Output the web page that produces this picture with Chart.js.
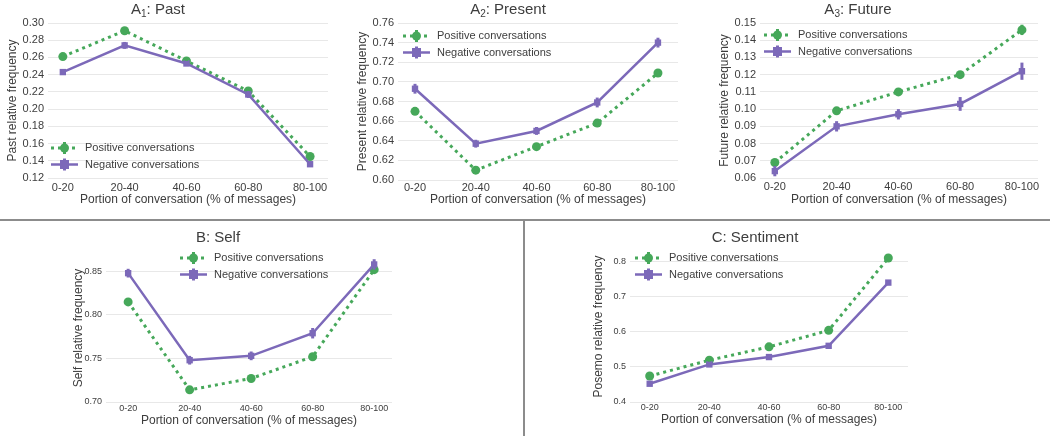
<!DOCTYPE html>
<html>
<head>
<meta charset="utf-8">
<script src="https://cdn.jsdelivr.net/npm/chart.js@4.4.0/dist/chart.umd.min.js"></script>
<style>
  html, body { margin: 0; padding: 0; background: #fff; }
  #wrap { position: relative; width: 1050px; height: 438px; overflow: hidden; }
  #wrap canvas { position: absolute; }
  .hline { position: absolute; left: 0; top: 219px; width: 1050px; height: 2px; background: #8c8c8c; }
  .vline { position: absolute; left: 523px; top: 221px; width: 2px; height: 215px; background: #8c8c8c; }
</style>
</head>
<body>
<div id="wrap">
  <canvas id="past"></canvas>
  <canvas id="present"></canvas>
  <canvas id="future"></canvas>
  <canvas id="self"></canvas>
  <canvas id="sentiment"></canvas>
  <div class="hline"></div>
  <div class="vline"></div>
</div>
<script>
// categories on the x axis (share of the conversation)
const categories = ['0-20', '20-40', '40-60', '60-80', '80-100'];

// A1: past
const pastPos = [0.261, 0.291, 0.256, 0.221, 0.145];
const pastNeg = [0.243, 0.274, 0.253, 0.217, 0.136];
const pastPosErr = [0.002, 0.002, 0.002, 0.002, 0.002];
const pastNegErr = [0.003, 0.004, 0.003, 0.004, 0.003];
const pastTicks = [0.12, 0.14, 0.16, 0.18, 0.20, 0.22, 0.24, 0.26, 0.28, 0.30];

// A2: present
const presentPos = [0.670, 0.610, 0.634, 0.658, 0.709];
const presentNeg = [0.693, 0.637, 0.650, 0.679, 0.740];
const presentPosErr = [0.003, 0.003, 0.003, 0.003, 0.003];
const presentNegErr = [0.005, 0.004, 0.004, 0.005, 0.005];
const presentTicks = [0.60, 0.62, 0.64, 0.66, 0.68, 0.70, 0.72, 0.74, 0.76];

// A3: future
const futurePos = [0.069, 0.099, 0.110, 0.120, 0.146];
const futureNeg = [0.064, 0.090, 0.097, 0.103, 0.122];
const futurePosErr = [0.002, 0.002, 0.002, 0.002, 0.003];
const futureNegErr = [0.003, 0.003, 0.003, 0.004, 0.005];
const futureTicks = [0.06, 0.07, 0.08, 0.09, 0.10, 0.11, 0.12, 0.13, 0.14, 0.15];

// B: self
const selfPos = [0.815, 0.714, 0.727, 0.752, 0.852];
const selfNeg = [0.848, 0.748, 0.753, 0.779, 0.858];
const selfPosErr = [0.003, 0.003, 0.003, 0.003, 0.003];
const selfNegErr = [0.005, 0.005, 0.005, 0.006, 0.006];
const selfTicks = [0.70, 0.75, 0.80, 0.85];

// C: sentiment
const sentimentPos = [0.474, 0.519, 0.557, 0.604, 0.810];
const sentimentNeg = [0.452, 0.507, 0.528, 0.560, 0.740];
const sentimentPosErr = [0.004, 0.004, 0.004, 0.004, 0.004];
const sentimentNegErr = [0.004, 0.004, 0.004, 0.004, 0.004];
const sentimentTicks = [0.4, 0.5, 0.6, 0.7, 0.8];

const green = '#46a85a';
const purple = '#7c69b9';
const textColor = '#3d3d3d';
const fontFamily = '"Liberation Sans", Arial, Helvetica, sans-serif';

Chart.defaults.font.family = fontFamily;
Chart.defaults.color = textColor;

// page positions of each panel (box = canvas, plot = chart area)
const panels = [
    { id: 'past', box: [0, 0, 345, 218], plot: [48, 23, 328, 178], xRange: [-0.24, 4.29],
      yTicks: pastTicks, yMax: 0.30, digits: 2, tickSize: 11, title: ['A', '1', ': Past'], titleAt: [158, 10],
      yTitle: 'Past relative frequency', yTitleX: 13, xLabelY: 188, xTitleY: 200, legendAt: [51, 148],
      pos: pastPos, neg: pastNeg, posErr: pastPosErr, negErr: pastNegErr },
    { id: 'present', box: [345, 0, 350, 218], plot: [398, 23, 678, 180], xRange: [-0.28, 4.33],
      yTicks: presentTicks, yMax: 0.76, digits: 2, tickSize: 11, title: ['A', '2', ': Present'], titleAt: [508, 10],
      yTitle: 'Present relative frequency', yTitleX: 363, xLabelY: 188, xTitleY: 200, legendAt: [403, 36],
      pos: presentPos, neg: presentNeg, posErr: presentPosErr, negErr: presentNegErr },
    { id: 'future', box: [695, 0, 355, 218], plot: [760, 23, 1038, 178], xRange: [-0.24, 4.26],
      yTicks: futureTicks, yMax: 0.15, digits: 2, tickSize: 11, title: ['A', '3', ': Future'], titleAt: [858, 10],
      yTitle: 'Future relative frequency', yTitleX: 725, xLabelY: 187, xTitleY: 200, legendAt: [764, 35],
      pos: futurePos, neg: futureNeg, posErr: futurePosErr, negErr: futureNegErr },
    { id: 'self', box: [0, 222, 522, 216], plot: [106, 254, 392, 402], xRange: [-0.36, 4.29],
      yTicks: selfTicks, yMax: 0.87, digits: 2, tickSize: 9, title: ['B: Self'], titleAt: [218, 238],
      yTitle: 'Self relative frequency', yTitleX: 79, xLabelY: 409, xTitleY: 421, legendAt: [180, 258],
      pos: selfPos, neg: selfNeg, posErr: selfPosErr, negErr: selfNegErr },
    { id: 'sentiment', box: [526, 222, 524, 216], plot: [630, 251, 908, 402], xRange: [-0.33, 4.33],
      yTicks: sentimentTicks, yMax: 0.83, digits: 1, tickSize: 9, title: ['C: Sentiment'], titleAt: [755, 238],
      yTitle: 'Posemo relative frequency', yTitleX: 599, xLabelY: 408, xTitleY: 420, legendAt: [635, 258],
      pos: sentimentPos, neg: sentimentNeg, posErr: sentimentPosErr, negErr: sentimentNegErr }
];

const toPoints = values => values.map((v, i) => ({ x: i, y: v }));

// vertical error bars through every point
const errorBars = {
    id: 'errorBars',
    afterDatasetsDraw(chart) {
        const ctx = chart.ctx;
        const xs = chart.scales.x, ys = chart.scales.y;
        chart.data.datasets.forEach(ds => {
            ctx.save();
            ctx.strokeStyle = ds.borderColor;
            ctx.lineWidth = 3;
            ds.data.forEach((pt, i) => {
                const e = ds.errors[i];
                const px = xs.getPixelForValue(pt.x);
                ctx.beginPath();
                ctx.moveTo(px, ys.getPixelForValue(pt.y - e));
                ctx.lineTo(px, ys.getPixelForValue(pt.y + e));
                ctx.stroke();
            });
            ctx.restore();
        });
    }
};

// panel title (with subscript) and the legend inside the plot
const panelText = {
    id: 'panelText',
    afterDraw(chart, args, opts) {
        const ctx = chart.ctx;
        ctx.save();
        ctx.fillStyle = textColor;
        ctx.textBaseline = 'middle';

        const big = '15px ' + fontFamily, small = '10px ' + fontFamily;
        const parts = opts.title;
        let widths = [];
        parts.forEach((t, i) => {
            ctx.font = (i === 1) ? small : big;
            widths.push(ctx.measureText(t).width);
        });
        let tx = opts.titleX - widths.reduce((a, b) => a + b, 0) / 2;
        parts.forEach((t, i) => {
            ctx.font = (i === 1) ? small : big;
            ctx.fillText(t, tx, opts.titleY + (i === 1 ? 4 : 0));
            tx += widths[i];
        });

        const lx = opts.legendX;
        chart.data.datasets.forEach((ds, i) => {
            const ly = opts.legendY + i * 16.5;
            ctx.strokeStyle = ds.borderColor;
            ctx.fillStyle = ds.borderColor;
            ctx.lineWidth = ds.borderWidth;
            ctx.setLineDash(ds.borderDash || []);
            ctx.beginPath();
            ctx.moveTo(lx, ly);
            ctx.lineTo(lx + 27, ly);
            ctx.stroke();
            ctx.setLineDash([]);
            ctx.lineWidth = 3;
            ctx.beginPath();
            ctx.moveTo(lx + 13.5, ly - 6);
            ctx.lineTo(lx + 13.5, ly + 6);
            ctx.stroke();
            ctx.beginPath();
            if (ds.pointStyle === 'rect') {
                ctx.fillRect(lx + 13.5 - 4.5, ly - 4.5, 9, 9);
            } else {
                ctx.arc(lx + 13.5, ly, 4.5, 0, Math.PI * 2);
                ctx.fill();
            }
            ctx.fillStyle = textColor;
            ctx.font = '11px ' + fontFamily;
            ctx.fillText(ds.label, lx + 34, ly);
        });
        ctx.restore();
    }
};

function makeChart(p) {
    const [bx, by, bw, bh] = p.box;
    const [pl, pt, pr, pb] = p.plot;
    const cv = document.getElementById(p.id);
    cv.style.left = bx + 'px';
    cv.style.top = by + 'px';
    cv.style.width = bw + 'px';
    cv.style.height = bh + 'px';
    cv.width = bw;
    cv.height = bh;

    const padL = 2;
    const yWidth = pl - bx - padL;
    const xBottom = p.xTitleY + 7.2;
    const xHeight = xBottom - pb;

    new Chart(cv, {
        type: 'line',
        data: {
            datasets: [
                {
                    label: 'Positive conversations',
                    data: toPoints(p.pos),
                    errors: p.posErr,
                    borderColor: green,
                    backgroundColor: green,
                    borderWidth: 3,
                    borderDash: [3, 4],
                    pointStyle: 'circle',
                    pointRadius: 4.5,
                    pointBorderWidth: 0,
                    order: 1
                },
                {
                    label: 'Negative conversations',
                    data: toPoints(p.neg),
                    errors: p.negErr,
                    borderColor: purple,
                    backgroundColor: purple,
                    borderWidth: 2.5,
                    pointStyle: 'rect',
                    pointRadius: 4.5,
                    pointBorderWidth: 0,
                    order: 0
                }
            ]
        },
        options: {
            responsive: false,
            animation: false,
            devicePixelRatio: 1,
            layout: {
                padding: { left: padL, top: pt - by, right: bx + bw - pr, bottom: by + bh - xBottom }
            },
            plugins: {
                legend: { display: false },
                tooltip: { enabled: false },
                panelText: {
                    title: p.title,
                    titleX: p.titleAt[0] - bx,
                    titleY: p.titleAt[1] - by,
                    legendX: p.legendAt[0] - bx,
                    legendY: p.legendAt[1] - by
                }
            },
            scales: {
                x: {
                    type: 'linear',
                    min: p.xRange[0],
                    max: p.xRange[1],
                    grid: { display: false, drawTicks: false },
                    border: { display: false },
                    afterBuildTicks: s => { s.ticks = categories.map((c, i) => ({ value: i })); },
                    afterFit: s => { s.height = xHeight; },
                    ticks: {
                        padding: Math.max(0, p.xLabelY - pb - p.tickSize * 0.6),
                        autoSkip: false,
                        maxRotation: 0,
                        color: textColor,
                        font: { size: p.tickSize },
                        callback: v => categories[v]
                    },
                    title: {
                        display: true,
                        text: 'Portion of conversation (% of messages)',
                        color: textColor,
                        font: { size: 12 },
                        padding: 0
                    }
                },
                y: {
                    min: p.yTicks[0],
                    max: p.yMax,
                    grid: { color: '#e8e8e8', drawTicks: false },
                    border: { display: false },
                    afterBuildTicks: s => { s.ticks = p.yTicks.map(v => ({ value: v })); },
                    afterFit: s => { s.width = yWidth; },
                    ticks: {
                        padding: 4,
                        color: textColor,
                        font: { size: p.tickSize },
                        callback: v => v.toFixed(p.digits)
                    },
                    title: {
                        display: true,
                        text: p.yTitle,
                        color: textColor,
                        font: { size: 12 },
                        padding: { top: Math.max(0, p.yTitleX - bx - padL - 7.2), bottom: 0 }
                    }
                }
            }
        },
        plugins: [errorBars, panelText]
    });
}

panels.forEach(makeChart);
</script>
</body>
</html>
